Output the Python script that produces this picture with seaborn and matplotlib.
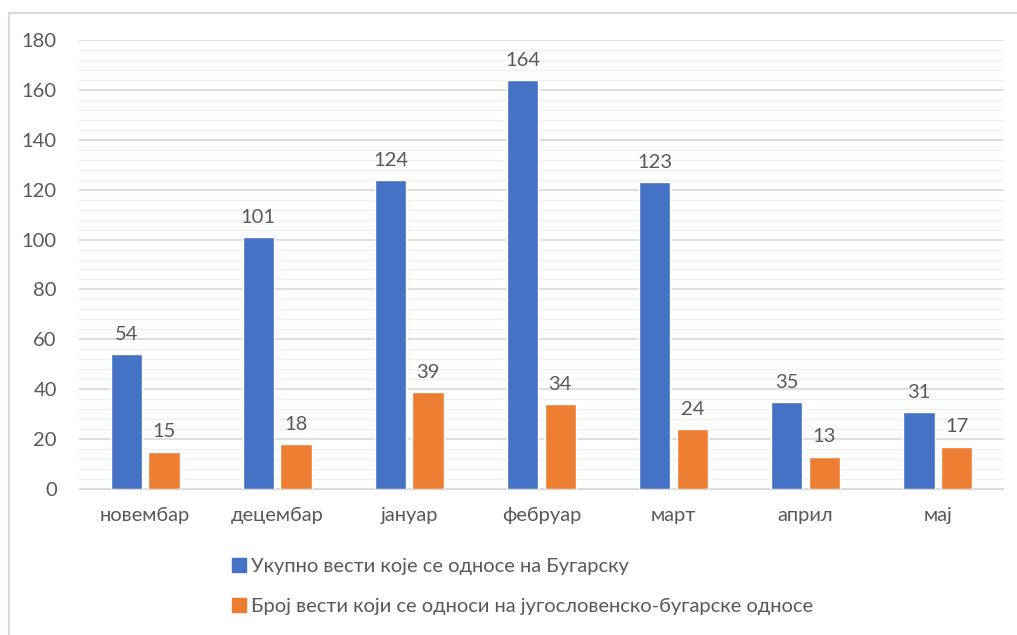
import pandas as pd
import matplotlib.pyplot as plt
import seaborn as sns
from matplotlib.lines import Line2D
from matplotlib.ticker import MultipleLocator

months = ["новембар", "децембар", "јануар", "фебруар", "март", "април", "мај"]
total_news = [54, 101, 124, 164, 123, 35, 31]
relations_news = [15, 18, 39, 34, 24, 13, 17]
series = ["Укупно вести које се односе на Бугарску",
          "Број вести који се односи на југословенско-бугарске односе"]

df = pd.DataFrame({
    "month": months * 2,
    "count": total_news + relations_news,
    "series": [series[0]] * len(months) + [series[1]] * len(months),
})

sns.set_style("white")
plt.rcParams["font.family"] = ["Lato", "Open Sans", "DejaVu Sans"]
text_col = "#595959"
fs = 14.5

fig = plt.figure(figsize=(10.17, 6.35), dpi=100)
ax = fig.add_axes([0.0777, 0.2299, 0.9093, 0.7071])

sns.barplot(data=df, x="month", y="count", hue="series", order=months,
            hue_order=series, palette=["#4472C4", "#ED7D31"], saturation=1,
            width=0.57, gap=0.17, ax=ax, legend=False, zorder=3)

for cont in ax.containers:
    ax.bar_label(cont, padding=8, fontsize=fs, color=text_col)

ax.set_ylim(0, 180)
ax.set_xlim(-0.5, len(months) - 0.5)
ax.yaxis.set_major_locator(MultipleLocator(20))
ax.yaxis.set_minor_locator(MultipleLocator(4))
ax.grid(axis="y", which="major", color="#D9D9D9", linewidth=1.2, zorder=0)
ax.grid(axis="y", which="minor", color="#F0F0F0", linewidth=1.0, zorder=0)
ax.set_axisbelow(True)
for s in ["top", "right", "left"]:
    ax.spines[s].set_visible(False)
ax.spines["bottom"].set_color("#D9D9D9")
ax.tick_params(axis="both", which="both", length=0, labelsize=fs, colors=text_col)
ax.tick_params(axis="y", pad=16)
ax.tick_params(axis="x", pad=13)
ax.set_xlabel("")
ax.set_ylabel("")

handles = [Line2D([], [], marker="s", linestyle="", markersize=10, color=c)
           for c in ["#4472C4", "#ED7D31"]]
fig.legend(handles, series, loc="upper left", bbox_to_anchor=(0.213, 0.137),
           frameon=False, fontsize=fs, labelcolor=text_col, handletextpad=0.0,
           handlelength=1.2, labelspacing=1.15, borderpad=0)

# chart frame (top and left edges visible)
fig.add_artist(Line2D([9 / 1017, 1.0], [1 - 13 / 635, 1 - 13 / 635],
                      color="#D9D9D9", linewidth=1.5))
fig.add_artist(Line2D([9 / 1017, 9 / 1017], [0.0, 1 - 13 / 635],
                      color="#D9D9D9", linewidth=1.5))

fig.savefig("out.png", dpi=100)
